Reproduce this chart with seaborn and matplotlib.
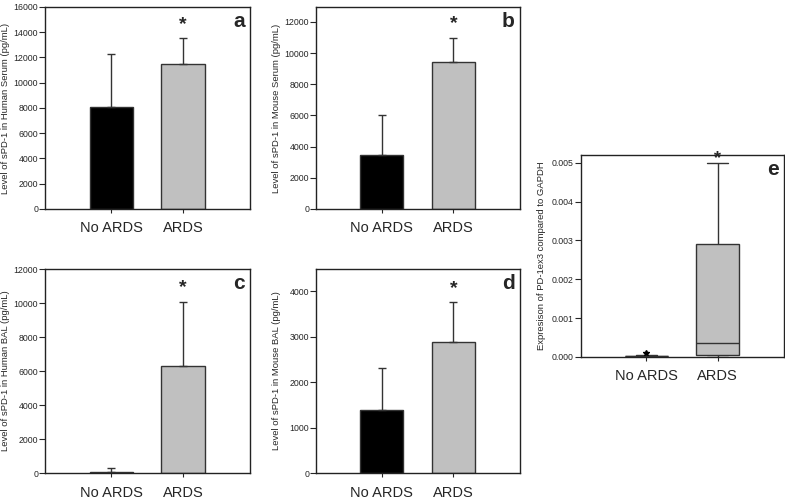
import pandas as pd
import matplotlib
matplotlib.use("Agg")
import matplotlib.pyplot as plt
import seaborn as sns

groups = ["No ARDS", "ARDS"]

# panels a-d: mean and upper error (SD) per group
human_serum = [8050, 11450]
human_serum_err = [4200, 2100]
mouse_serum = [3450, 9400]
mouse_serum_err = [2550, 1550]
human_bal = [80, 6300]
human_bal_err = [220, 3750]
mouse_bal = [1380, 2890]
mouse_bal_err = [940, 870]

# panel e: PD-1ex3 / GAPDH expression values per group
pd1_no_ards = [0.0, 0.00001, 0.00002, 0.00003, 0.00004, 0.0001]
pd1_ards = [0.0, 0.00005, 0.00037, 0.0029, 0.005]

sns.set_style("ticks")
plt.rcParams['font.family'] = ['Liberation Sans', 'DejaVu Sans']

fig = plt.figure(figsize=(7.85, 5.03), dpi=100)

colors = {"No ARDS": "black", "ARDS": "#c0c0c0"}


def style_axes(ax, ymax, yticks, letter, ylabel):
    ax.set_xlim(-0.92, 1.93)
    ax.set_ylim(0, ymax)
    ax.set_yticks(yticks)
    for s in ax.spines.values():
        s.set_visible(True)
        s.set_linewidth(1.0)
        s.set_color("#222222")
    ax.tick_params(axis="y", labelsize=6.3, length=4, width=0.8, pad=1)
    ax.tick_params(axis="x", labelsize=10.5, length=3, width=0.8, pad=6)
    ax.set_xlabel("")
    ax.set_ylabel(ylabel, fontsize=6.8)
    ax.yaxis.set_label_coords(-0.172, 0.5)
    ax.text(0.975, 0.975, letter, transform=ax.transAxes, ha="right", va="top",
            fontsize=15, fontweight="bold")


def bar_panel(rect, values, errs, ylabel, ymax, yticks, letter, star_y):
    ax = fig.add_axes(rect)
    df = pd.DataFrame({"group": groups, "value": values})
    sns.barplot(data=df, x="group", y="value", hue="group", palette=colors,
                width=0.6, edgecolor="#333333", linewidth=1.0, legend=False, ax=ax)
    ax.errorbar(range(len(groups)), values, yerr=[[0, 0], errs], fmt="none",
                ecolor="#333333", elinewidth=1.0, capsize=3, capthick=1.0)
    ax.text(1, star_y, "*", ha="center", va="center", fontsize=14, fontweight="bold")
    style_axes(ax, ymax, yticks, letter, ylabel)
    return ax


bar_panel([0.0573, 0.5845, 0.2611, 0.4016], human_serum, human_serum_err,
          "Level of sPD-1 in Human Serum (pg/mL)", 16000, range(0, 16001, 2000), "a", 14600)
bar_panel([0.4025, 0.5845, 0.2599, 0.4016], mouse_serum, mouse_serum_err,
          "Level of sPD-1 in Mouse Serum (pg/mL)", 12960, range(0, 12001, 2000), "b", 11900)
bar_panel([0.0573, 0.0596, 0.2611, 0.4056], human_bal, human_bal_err,
          "Level of sPD-1 in Human BAL (pg/mL)", 12000, range(0, 12001, 2000), "c", 10900)
bar_panel([0.4025, 0.0596, 0.2599, 0.4056], mouse_bal, mouse_bal_err,
          "Level of sPD-1 in Mouse BAL (pg/mL)", 4490, range(0, 4001, 1000), "d", 4050)

# panel e: box plot
ax = fig.add_axes([0.740, 0.2903, 0.2586, 0.4015])
box_df = pd.DataFrame({
    "group": ["No ARDS"] * len(pd1_no_ards) + ["ARDS"] * len(pd1_ards),
    "value": pd1_no_ards + pd1_ards,
})
sns.boxplot(data=box_df, x="group", y="value", hue="group", order=groups,
            palette=colors, width=0.6, linecolor="#333333", linewidth=1.0,
            flierprops=dict(marker="*", markersize=5, markerfacecolor="black",
                            markeredgecolor="black"),
            legend=False, ax=ax)
ax.text(1, 0.0051, "*", ha="center", va="center", fontsize=13, fontweight="bold")
style_axes(ax, 0.0052, [0, 0.001, 0.002, 0.003, 0.004, 0.005], "e",
           "Expresison of PD-1ex3 compared to GAPDH")
ax.set_yticklabels(["0.000", "0.001", "0.002", "0.003", "0.004", "0.005"])

fig.savefig("out.png", dpi=100)
